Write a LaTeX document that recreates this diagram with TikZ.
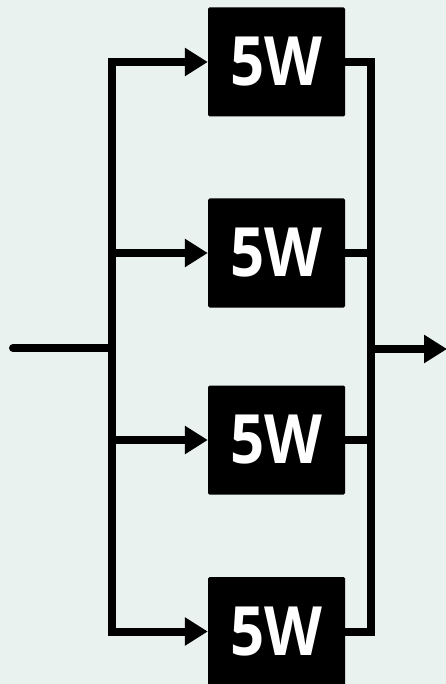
\documentclass[tikz,border=0pt]{standalone}
\usepackage{fontspec}
\setsansfont{Open Sans}
\usetikzlibrary{arrows.meta}
\definecolor{paper}{HTML}{E9F2EF}
\tikzset{
  wire/.style={line width=8pt, line join=miter, draw=black},
  feed/.style={wire, -{Triangle[length=23pt,width=27pt]}},
  unit/.style={fill=black, text=white, minimum width=137pt, minimum height=109pt,
    rounded corners=1.5pt, inner sep=0pt,
    font=\sffamily\bfseries\fontsize{68}{68}\selectfont}
}
\begin{document}
\begin{tikzpicture}[x=1pt, y=-1pt]
  \fill[paper] (0,0) rectangle (446,684);
  \useasboundingbox (0,0) rectangle (446,684);

  % the four parallel 5W units
  \node[unit] (b1) at (276.5,62)  {\scalebox{0.88}[1]{5W}};
  \node[unit] (b2) at (276.5,253) {\scalebox{0.88}[1]{5W}};
  \node[unit] (b3) at (276.5,440) {\scalebox{0.88}[1]{5W}};
  \node[unit] (b4) at (276.5,631.5) {\scalebox{0.88}[1]{5W}};

  % input and output ends, bus junctions
  \coordinate (in)  at (13,348);
  \coordinate (jl)  at (112,348);
  \coordinate (jr)  at (371,349);
  \coordinate (out) at (447,349);

  % input feed and left bus with branches
  \draw[wire, line cap=round] (in) -- (jl);
  \draw[feed] (jl) |- (b1.west);
  \draw[feed] (jl) |- (b4.west);
  \draw[feed] (jl |- b2.west) -- (b2.west);
  \draw[feed] (jl |- b3.west) -- (b3.west);

  % right bus collecting the outputs
  \draw[wire] (b1.east) -| (jr);
  \draw[wire] (b4.east) -| (jr);
  \draw[wire] (b2.east) -- (jr |- b2.east);
  \draw[wire] (b3.east) -- (jr |- b3.east);
  \draw[feed] (jr) -- (out);
\end{tikzpicture}
\end{document}
